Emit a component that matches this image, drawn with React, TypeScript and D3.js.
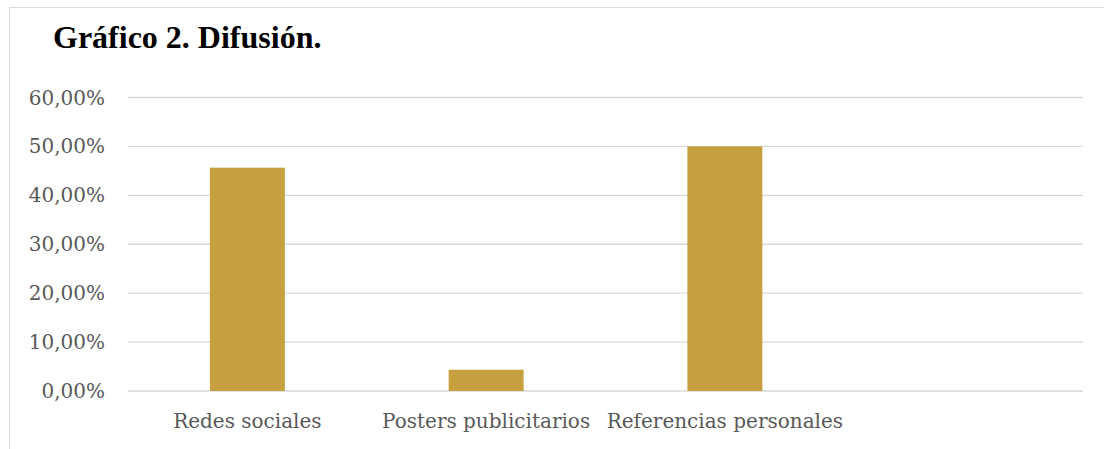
import React from "react";
import * as d3 from "d3";

const categories = ["Redes sociales", "Posters publicitarios", "Referencias personales", ""];
const values = [0.4565, 0.0435, 0.5, null as number | null];
const yTicks = [0, 0.1, 0.2, 0.3, 0.4, 0.5, 0.6];
const title = "Gráfico 2. Difusión.";

const W = 1104;
const H = 449;

export default function App() {
  const left = 128;
  const right = 1083;
  const top = 97.5;
  const bottom = 391;

  const x = d3.scaleBand<string>().domain(categories.map((c, i) => String(i))).range([left, right]).paddingInner(0.686).paddingOuter(0.343);
  const y = d3.scaleLinear().domain([0, 0.6]).range([bottom, top]);
  const fmt = (v: number) => (v * 100).toFixed(2).replace(".", ",") + "%";
  const labelFont = "'DejaVu Serif', serif";

  return (
    <svg width={W} height={H} style={{ position: "absolute", left: 0, top: 0 }}>
      <rect x={0} y={0} width={W} height={H} fill="#fff" />
      <rect x={9.5} y={7.5} width={W} height={H} fill="none" stroke="#d9d9d9" strokeWidth={1} />
      <text x={53} y={48} fontFamily="'Liberation Serif', serif" fontWeight="bold" fontSize={32} fill="#000">
        {title}
      </text>
      {yTicks.map((t) => (
        <g key={t}>
          <line x1={left} x2={right} y1={y(t)} y2={y(t)} stroke="#d9d9d9" strokeWidth={1.3} />
          <text x={105} y={y(t)} dy="0.35em" textAnchor="end" fontFamily={labelFont} fontSize={20} fill="#595959">
            {fmt(t)}
          </text>
        </g>
      ))}
      {values.map((v, i) =>
        v == null ? null : (
          <rect key={i} x={x(String(i))} width={x.bandwidth()} y={y(v)} height={y(0) - y(v)} fill="#c6a03e" />
        )
      )}
      {categories.map((c, i) => (
        <text key={i} x={(x(String(i)) as number) + x.bandwidth() / 2} y={428} textAnchor="middle" fontFamily={labelFont} fontSize={20} fill="#595959">
          {c}
        </text>
      ))}
    </svg>
  );
}
